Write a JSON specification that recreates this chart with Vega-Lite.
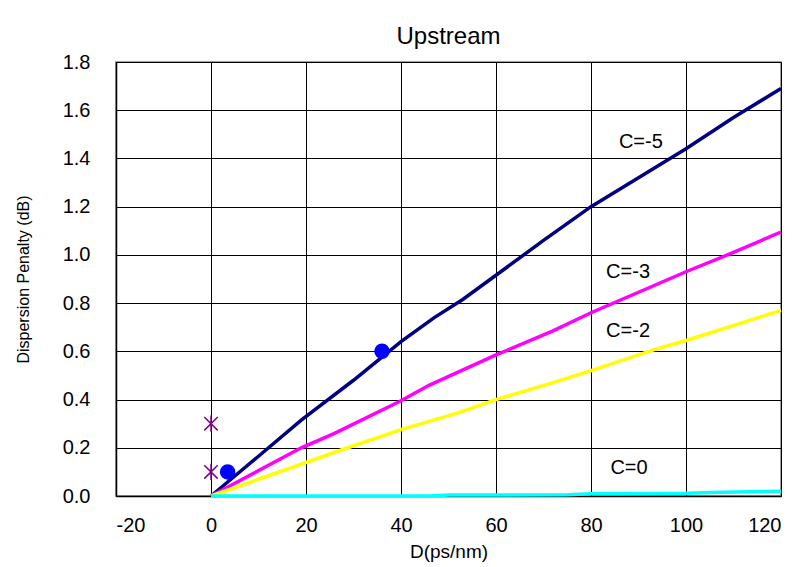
{
  "$schema": "https://vega.github.io/schema/vega-lite/v6.json",
  "width": 665,
  "height": 434,
  "autosize": "none",
  "padding": {"left": 116, "top": 62, "right": 19, "bottom": 71},
  "background": "white",
  "title": {"text": "Upstream", "fontSize": 24, "font": "Liberation Sans", "fontWeight": "normal", "color": "black", "offset": 3},
  "config": {
    "view": {"stroke": "#808080", "strokeWidth": 1.5},
    "font": "Liberation Sans",
    "axis": {"gridColor": "black", "gridOpacity": 1, "gridWidth": 1, "domainColor": "black", "domainWidth": 1.5, "tickSize": 0, "labelFont": "Liberation Sans", "labelFontSize": 20, "labelColor": "black", "titleFont": "Liberation Sans", "titleFontWeight": "normal", "titleColor": "black"}
  },
  "datasets": {
    "curves": [
      {"D": 0, "P": 0, "C": "C=-5"}, {"D": 10, "P": 0.165, "C": "C=-5"}, {"D": 19, "P": 0.315, "C": "C=-5"}, {"D": 30, "P": 0.48, "C": "C=-5"}, {"D": 40, "P": 0.64, "C": "C=-5"}, {"D": 47, "P": 0.74, "C": "C=-5"}, {"D": 53, "P": 0.815, "C": "C=-5"}, {"D": 61, "P": 0.93, "C": "C=-5"}, {"D": 70, "P": 1.06, "C": "C=-5"}, {"D": 80, "P": 1.2, "C": "C=-5"}, {"D": 90, "P": 1.32, "C": "C=-5"}, {"D": 100, "P": 1.44, "C": "C=-5"}, {"D": 110, "P": 1.57, "C": "C=-5"}, {"D": 120, "P": 1.69, "C": "C=-5"},
      {"D": 0, "P": 0, "C": "C=-3"}, {"D": 19, "P": 0.2, "C": "C=-3"}, {"D": 26, "P": 0.26, "C": "C=-3"}, {"D": 40, "P": 0.395, "C": "C=-3"}, {"D": 46, "P": 0.46, "C": "C=-3"}, {"D": 60, "P": 0.585, "C": "C=-3"}, {"D": 72, "P": 0.685, "C": "C=-3"}, {"D": 80, "P": 0.76, "C": "C=-3"}, {"D": 90, "P": 0.845, "C": "C=-3"}, {"D": 100, "P": 0.93, "C": "C=-3"}, {"D": 110, "P": 1.01, "C": "C=-3"}, {"D": 120, "P": 1.095, "C": "C=-3"},
      {"D": 0, "P": 0, "C": "C=-2"}, {"D": 28, "P": 0.195, "C": "C=-2"}, {"D": 40, "P": 0.275, "C": "C=-2"}, {"D": 52, "P": 0.345, "C": "C=-2"}, {"D": 60, "P": 0.4, "C": "C=-2"}, {"D": 72, "P": 0.47, "C": "C=-2"}, {"D": 80, "P": 0.52, "C": "C=-2"}, {"D": 93, "P": 0.605, "C": "C=-2"}, {"D": 100, "P": 0.645, "C": "C=-2"}, {"D": 120, "P": 0.77, "C": "C=-2"},
      {"D": 0, "P": 0, "C": "C=0"}, {"D": 46, "P": 0.0, "C": "C=0"}, {"D": 50, "P": 0.004, "C": "C=0"}, {"D": 75, "P": 0.005, "C": "C=0"}, {"D": 80, "P": 0.009, "C": "C=0"}, {"D": 100, "P": 0.011, "C": "C=0"}, {"D": 105, "P": 0.015, "C": "C=0"}, {"D": 120, "P": 0.02, "C": "C=0"}
    ],
    "dots": [{"D": 3.5, "P": 0.1}, {"D": 36, "P": 0.6}],
    "stars": [{"D": 0, "P": 0.3}, {"D": 0, "P": 0.1}],
    "labels": [
      {"D": 90.5, "P": 1.47, "t": "C=-5"},
      {"D": 87.8, "P": 0.93, "t": "C=-3"},
      {"D": 87.8, "P": 0.685, "t": "C=-2"},
      {"D": 88, "P": 0.115, "t": "C=0"}
    ]
  },
  "layer": [
    {
      "data": {"name": "curves"},
      "mark": {"type": "line", "strokeWidth": 3.5},
      "encoding": {
        "x": {"field": "D", "type": "quantitative", "scale": {"domain": [-20, 120], "nice": false}, "axis": {"values": [-20, 0, 20, 40, 60, 80, 100, 120], "labelExpr": "'' + datum.value", "title": "D(ps/nm)", "titleFontSize": 19, "labelPadding": 19, "titlePadding": 7}},
        "y": {"field": "P", "type": "quantitative", "scale": {"domain": [0, 1.8], "nice": false}, "axis": {"values": [0, 0.2, 0.4, 0.6, 0.8, 1.0, 1.2, 1.4, 1.6, 1.8], "format": ".1f", "title": "Dispersion Penalty (dB)", "titleFontSize": 16, "labelPadding": 26, "titlePadding": 31}},
        "color": {"field": "C", "type": "nominal", "legend": null, "scale": {"domain": ["C=-5", "C=-3", "C=-2", "C=0"], "range": ["#000080", "#ff00ff", "#ffff00", "#00ffff"]}},
        "order": {"field": "D", "type": "quantitative"}
      }
    },
    {
      "data": {"name": "dots"},
      "mark": {"type": "point", "filled": true, "shape": "circle", "size": 240, "color": "#0000ff", "opacity": 1},
      "encoding": {"x": {"field": "D", "type": "quantitative"}, "y": {"field": "P", "type": "quantitative"}}
    },
    {
      "data": {"name": "stars"},
      "mark": {"type": "point", "shape": "M-1,-1L1,1M-1,1L1,-1M0,-1.2L0,1.2", "size": 180, "color": "#800080", "strokeWidth": 1.5, "opacity": 1},
      "encoding": {"x": {"field": "D", "type": "quantitative"}, "y": {"field": "P", "type": "quantitative"}}
    },
    {
      "data": {"name": "labels"},
      "mark": {"type": "text", "fontSize": 20, "font": "Liberation Sans", "color": "black", "align": "center", "baseline": "middle"},
      "encoding": {"x": {"field": "D", "type": "quantitative"}, "y": {"field": "P", "type": "quantitative"}, "text": {"field": "t"}}
    }
  ]
}
